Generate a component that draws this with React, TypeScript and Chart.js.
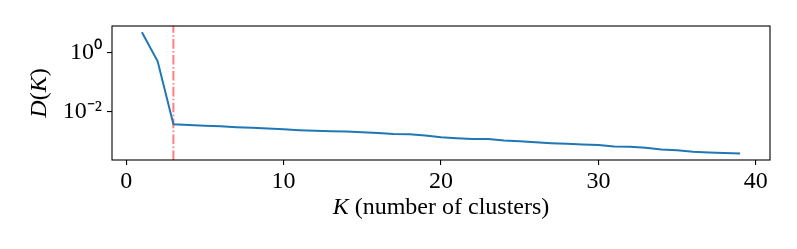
import React, { useEffect, useRef } from "react";
import { Chart, registerables } from "chart.js";

Chart.register(...registerables);

const K_VALUES = [1, 2, 3, 4, 5, 6, 7, 8, 9, 10, 11, 12, 13, 14, 15, 16, 17, 18, 19, 20, 21, 22, 23, 24, 25, 26, 27, 28, 29, 30, 31, 32, 33, 34, 35, 36, 37, 38, 39];
const D_VALUES = [
  4.71, 0.498, 3.77e-3, 3.55e-3, 3.39e-3, 3.24e-3, 3.02e-3, 2.88e-3, 2.75e-3, 2.57e-3,
  2.4e-3, 2.29e-3, 2.19e-3, 2.14e-3, 2.04e-3, 1.91e-3, 1.78e-3, 1.74e-3, 1.58e-3, 1.38e-3,
  1.29e-3, 1.2e-3, 1.2e-3, 1.07e-3, 1.02e-3, 9.33e-4, 8.71e-4, 8.32e-4, 7.94e-4, 7.59e-4,
  6.76e-4, 6.61e-4, 6.17e-4, 5.37e-4, 5.01e-4, 4.47e-4, 4.27e-4, 4.07e-4, 3.89e-4,
];
const K_CHOSEN = 3;
const X_TICKS = [0, 10, 20, 30, 40];
const Y_TICKS = [1e-2, 1];
const Y_TICK_LABELS: Record<string, string> = { "0.01": "10\u207B\u00B2", "1": "10\u2070" };
const X_MIN = -0.9;
const X_MAX = 40.9;
const Y_MIN = 2.37e-4;
const Y_MAX = 7.69;

const FONT = "'Liberation Serif', 'Times New Roman', serif";
const FS = 24;

const framePlugin = {
  id: "frameAndTitles",
  afterDraw(chart: any) {
    const { ctx, chartArea } = chart;
    const { left, right, top, bottom } = chartArea;
    ctx.save();
    ctx.strokeStyle = "#000";
    ctx.lineWidth = 1.1;
    ctx.strokeRect(left, top, right - left, bottom - top);

    ctx.fillStyle = "#000";
    ctx.textBaseline = "middle";
    const it = `italic ${FS}px ${FONT}`;
    const rg = `${FS}px ${FONT}`;
    ctx.font = it;
    const wK = ctx.measureText("K").width;
    ctx.font = rg;
    const wRest = ctx.measureText(" (number of clusters)").width;
    const total = wK + wRest;
    const cx = (left + right) / 2;
    const x = cx - total / 2;
    const ty = bottom + 48;
    ctx.textAlign = "left";
    ctx.font = it;
    ctx.fillText("K", x, ty);
    ctx.font = rg;
    ctx.fillText(" (number of clusters)", x + wK, ty);

    const parts: [string, boolean][] = [["D", true], ["(", false], ["K", true], [")", false]];
    let tw = 0;
    const widths = parts.map(([t, i]) => {
      ctx.font = i ? it : rg;
      const w = ctx.measureText(t).width;
      tw += w;
      return w;
    });
    ctx.translate(40, (top + bottom) / 2);
    ctx.rotate(-Math.PI / 2);
    let px = -tw / 2;
    parts.forEach(([t, i], idx) => {
      ctx.font = i ? it : rg;
      ctx.fillText(t, px, 0);
      px += widths[idx];
    });
    ctx.restore();
  },
};

export default function App() {
  const ref = useRef<HTMLCanvasElement>(null);
  useEffect(() => {
    if (!ref.current) return;
    const chart = new Chart(ref.current, {
      type: "line",
      data: {
        datasets: [
          {
            data: K_VALUES.map((k, i) => ({ x: k, y: D_VALUES[i] })),
            borderColor: "#1f77b4",
            borderWidth: 2,
            pointRadius: 0,
            tension: 0,
            fill: false,
          },
          {
            data: [
              { x: K_CHOSEN, y: Y_MIN },
              { x: K_CHOSEN, y: Y_MAX },
            ],
            borderColor: "rgba(255,0,0,0.5)",
            borderWidth: 2,
            borderDash: [9.6, 2.4, 1.5, 2.4],
            pointRadius: 0,
            fill: false,
          },
        ],
      },
      plugins: [framePlugin],
      options: {
        animation: false,
        responsive: false,
        maintainAspectRatio: false,
        layout: { padding: { top: 26, right: 27, left: 0, bottom: 0 } },
        plugins: { legend: { display: false }, tooltip: { enabled: false } },
        scales: {
          x: {
            type: "linear",
            min: X_MIN,
            max: X_MAX,
            afterBuildTicks: (s: any) => {
              s.ticks = X_TICKS.map((v) => ({ value: v }));
            },
            afterFit: (s: any) => {
              s.height = 89;
            },
            grid: { drawOnChartArea: false, drawTicks: true, tickLength: 5, color: "#000", lineWidth: 1.1 },
            border: { display: false },
            ticks: {
              color: "#000",
              font: { family: FONT, size: FS },
              padding: 2,
              maxRotation: 0,
              autoSkip: false,
              callback: (v: any) => String(v),
            },
          },
          y: {
            type: "logarithmic",
            min: Y_MIN,
            max: Y_MAX,
            afterBuildTicks: (s: any) => {
              s.ticks = Y_TICKS.map((v) => ({ value: v }));
            },
            afterFit: (s: any) => {
              s.width = 112;
            },
            grid: { drawOnChartArea: false, drawTicks: true, tickLength: 5, color: "#000", lineWidth: 1.1 },
            border: { display: false },
            ticks: {
              color: "#000",
              font: { family: FONT, size: FS },
              padding: 5,
              autoSkip: false,
              callback: (v: any) => Y_TICK_LABELS[String(v)] ?? "",
            },
          },
        },
      },
    });
    return () => chart.destroy();
  }, []);
  return (
    <div style={{ position: "fixed", left: 0, top: 0, width: 797, height: 249, background: "#fff" }}>
      <canvas ref={ref} width={797} height={249} style={{ width: 797, height: 249, display: "block" }} />
    </div>
  );
}
